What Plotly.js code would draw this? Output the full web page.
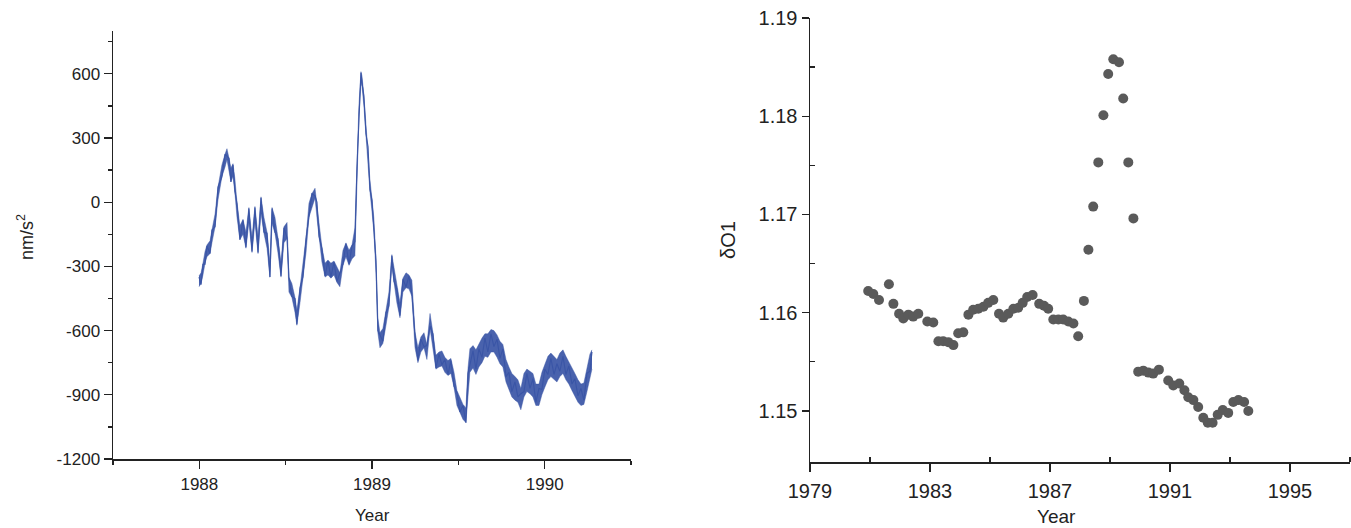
<!DOCTYPE html>
<html>
<head>
<meta charset="utf-8">
<script src="https://cdn.plot.ly/plotly-3.0.1.min.js"></script>
<style>
  html, body { margin: 0; padding: 0; background: #ffffff; }
  #chart { width: 1351px; height: 528px; }
</style>
</head>
<body>
<div id="chart"></div>
<script>
// ---- Left panel: gravity residual (nm/s^2) versus time ----
const gravityYears = [
  1987.998,1988.010,1988.021,1988.033,1988.044,1988.062,1988.073,1988.091,1988.108,1988.131,
  1988.149,1988.160,1988.172,1988.183,1988.195,1988.206,1988.218,1988.235,1988.253,1988.270,
  1988.287,1988.305,1988.322,1988.340,1988.357,1988.374,1988.392,1988.409,1988.421,1988.438,
  1988.455,1988.473,1988.490,1988.508,1988.519,1988.536,1988.554,1988.565,1988.583,1988.600,
  1988.618,1988.635,1988.652,1988.670,1988.681,1988.693,1988.710,1988.728,1988.745,1988.762,
  1988.780,1988.797,1988.814,1988.832,1988.849,1988.867,1988.884,1988.901,1988.913,1988.924,
  1988.936,1988.942,1988.953,1988.965,1988.977,1988.988,1989.000,1989.011,1989.023,1989.034,
  1989.046,1989.063,1989.081,1989.098,1989.115,1989.127,1989.144,1989.162,1989.179,1989.197,
  1989.214,1989.231,1989.249,1989.266,1989.283,1989.301,1989.318,1989.336,1989.353,1989.370,
  1989.388,1989.405,1989.422,1989.440,1989.457,1989.475,1989.492,1989.509,1989.527,1989.544,
  1989.556,1989.567,1989.585,1989.602,1989.619,1989.637,1989.654,1989.671,1989.689,1989.706,
  1989.724,1989.741,1989.758,1989.776,1989.793,1989.810,1989.828,1989.845,1989.862,1989.880,
  1989.897,1989.915,1989.932,1989.949,1989.967,1989.984,1990.001,1990.019,1990.036,1990.054,
  1990.071,1990.088,1990.106,1990.123,1990.140,1990.158,1990.175,1990.193,1990.210,1990.227,
  1990.245,1990.262,1990.274
];
// noisy trace, read alternately from the upper and lower side of the band
const gravityValues = [
  -350,-385,-290,-290,-205,-240,-130,-115,70,120,
  225,215,205,95,175,50,-5,-175,-85,-210,
  -30,-230,-25,-235,20,-140,-145,-350,-30,-140,
  -170,-345,-120,-165,-355,-440,-450,-570,-400,-350,
  -170,-65,40,30,0,-160,-215,-345,-275,-350,
  -280,-370,-335,-290,-195,-290,-205,-185,165,420,
  605,560,495,320,260,60,10,-130,-275,-600,
  -620,-650,-515,-485,-250,-370,-405,-530,-360,-395,
  -345,-430,-620,-740,-640,-675,-670,-580,-615,-775,
  -710,-760,-735,-805,-740,-860,-890,-980,-950,-1030,
  -800,-765,-695,-780,-685,-725,-635,-700,-615,-675,
  -640,-730,-685,-815,-795,-885,-840,-910,-895,-885,
  -800,-870,-825,-935,-870,-875,-780,-805,-730,-805,
  -755,-790,-720,-805,-765,-850,-825,-905,-870,-925,
  -800,-790,-700
];
// upper and lower edge of the noise band
const gravityUpper = [
  -345,-330,-285,-230,-200,-180,-130,-55,70,175,
  225,250,205,160,180,110,0,-110,-80,-140,
  -25,-165,-20,-160,25,-70,-140,-280,-25,-70,
  -165,-280,-115,-95,-350,-380,-445,-505,-400,-285,
  -165,-5,40,65,0,-95,-210,-285,-270,-285,
  -275,-305,-330,-225,-190,-225,-200,-120,170,450,
  610,590,500,360,270,105,15,-75,-260,-540,
  -610,-590,-505,-420,-245,-305,-400,-470,-355,-330,
  -340,-365,-605,-680,-630,-610,-665,-520,-610,-715,
  -700,-695,-725,-740,-730,-795,-880,-915,-945,-960,
  -775,-685,-670,-690,-660,-635,-615,-615,-595,-600,
  -620,-650,-665,-735,-770,-800,-815,-830,-870,-800,
  -780,-790,-800,-850,-850,-795,-760,-720,-705,-720,
  -735,-705,-690,-720,-745,-770,-800,-830,-850,-845,
  -780,-710,-690
];
const gravityLower = [
  -395,-380,-340,-285,-255,-240,-190,-115,10,120,
  165,200,145,95,120,45,-70,-175,-150,-215,
  -95,-235,-95,-240,-50,-145,-215,-350,-100,-145,
  -235,-350,-190,-170,-420,-445,-515,-575,-470,-350,
  -235,-70,-20,20,-70,-165,-280,-350,-340,-355,
  -340,-375,-395,-295,-255,-295,-265,-250,100,400,
  560,540,450,310,215,50,-45,-140,-330,-610,
  -680,-660,-575,-490,-300,-375,-470,-540,-420,-400,
  -405,-440,-680,-750,-700,-680,-735,-590,-680,-780,
  -770,-765,-795,-810,-800,-865,-950,-985,-1015,-1030,
  -890,-795,-775,-805,-770,-750,-720,-725,-700,-700,
  -725,-755,-770,-840,-875,-910,-925,-935,-970,-910,
  -885,-895,-910,-950,-950,-900,-865,-830,-815,-830,
  -840,-815,-800,-830,-850,-880,-910,-935,-950,-945,
  -885,-815,-780
];
const leftXTickVals = [1988, 1989, 1990];
const leftXTickText = ['1988', '1989', '1990'];
const leftXMinorVals = [1987.5, 1988.5, 1989.5, 1990.5];
const leftYTickVals = [-1200, -900, -600, -300, 0, 300, 600];
const leftYTickText = ['-1200', '-900', '-600', '-300', '0', '300', '600'];
const leftYMinorVals = [-1050, -750, -450, -150, 150, 450, 750];

// ---- Right panel: delta O1 factor versus year ----
const deltaYears = [
  1980.94,1981.11,1981.30,1981.63,1981.78,1981.97,1982.11,1982.28,1982.44,1982.61,
  1982.91,1983.11,1983.28,1983.44,1983.61,1983.78,1983.94,1984.11,1984.28,1984.44,
  1984.61,1984.78,1984.94,1985.11,1985.30,1985.44,1985.61,1985.78,1985.94,1986.09,
  1986.24,1986.42,1986.64,1986.80,1986.94,1987.11,1987.28,1987.44,1987.61,1987.78,
  1987.94,1988.13,1988.28,1988.44,1988.61,1988.78,1988.94,1989.11,1989.30,1989.44,
  1989.61,1989.78,1989.94,1990.11,1990.28,1990.44,1990.63,1990.94,1991.11,1991.31,
  1991.48,1991.61,1991.78,1991.94,1992.11,1992.26,1992.42,1992.59,1992.76,1992.94,
  1993.11,1993.28,1993.47,1993.61
];
const deltaValues = [
  1.1622,1.1619,1.1613,1.1629,1.1609,1.1599,1.1594,1.1598,1.1596,1.1599,
  1.1591,1.1590,1.1571,1.1571,1.1570,1.1567,1.1579,1.1580,1.1598,1.1603,
  1.1604,1.1606,1.1610,1.1613,1.1599,1.1595,1.1599,1.1604,1.1605,1.1610,
  1.1616,1.1618,1.1609,1.1607,1.1604,1.1593,1.1593,1.1593,1.1591,1.1589,
  1.1576,1.1612,1.1664,1.1708,1.1753,1.1801,1.1843,1.1858,1.1855,1.1818,
  1.1753,1.1696,1.1540,1.1541,1.1539,1.1538,1.1542,1.1531,1.1526,1.1528,
  1.1521,1.1514,1.1511,1.1504,1.1493,1.1488,1.1488,1.1496,1.1501,1.1498,
  1.1509,1.1511,1.1509,1.1500
];
const rightXTickVals = [1979, 1983, 1987, 1991, 1995];
const rightXTickText = ['1979', '1983', '1987', '1991', '1995'];
const rightXMinorVals = [1981, 1985, 1989, 1993, 1997];
const rightYTickVals = [1.15, 1.16, 1.17, 1.18, 1.19];
const rightYTickText = ['1.15', '1.16', '1.17', '1.18', '1.19'];
const rightYMinorVals = [1.155, 1.165, 1.175, 1.185];

const FONT = '"Liberation Sans", Arial, Helvetica, sans-serif';
const AX = '#222222';
const BLUE = '#3a55a6';

const traces = [
  {
    type: 'scatter', mode: 'lines',
    x: gravityYears, y: gravityLower,
    xaxis: 'x', yaxis: 'y',
    line: { color: 'rgba(58,85,166,0.55)', width: 0.8 },
    hoverinfo: 'skip'
  },
  {
    type: 'scatter', mode: 'lines',
    x: gravityYears, y: gravityUpper,
    xaxis: 'x', yaxis: 'y',
    fill: 'tonexty', fillcolor: 'rgba(58,85,166,0.92)',
    line: { color: 'rgba(58,85,166,0.55)', width: 0.8 },
    hoverinfo: 'skip'
  },
  {
    type: 'scatter', mode: 'lines',
    x: gravityYears, y: gravityValues,
    xaxis: 'x', yaxis: 'y',
    line: { color: BLUE, width: 1.1 },
    hoverinfo: 'x+y'
  },
  {
    type: 'scatter', mode: 'markers',
    x: deltaYears, y: deltaValues,
    xaxis: 'x2', yaxis: 'y2',
    marker: { color: '#5a5a5a', size: 10, line: { width: 0 } },
    hoverinfo: 'x+y'
  }
];

function axisBase(size) {
  return {
    showline: true, linecolor: AX, linewidth: 1.5,
    showgrid: false, zeroline: false,
    ticks: 'outside', tickcolor: AX, tickwidth: 1.3,
    tickfont: { family: FONT, size: size, color: '#222' },
    tickmode: 'array', fixedrange: true
  };
}

const layout = {
  width: 1351, height: 528,
  margin: { l: 0, r: 0, t: 0, b: 0, pad: 0 },
  paper_bgcolor: '#ffffff', plot_bgcolor: '#ffffff',
  showlegend: false,
  font: { family: FONT, color: '#222' },
  xaxis: Object.assign(axisBase(17), {
    domain: [113 / 1351, 631 / 1351], anchor: 'y',
    range: [1987.5, 1990.5],
    tickvals: leftXTickVals, ticktext: leftXTickText, ticklen: 8,
    ticklabelstandoff: 1,
    minor: { tickmode: 'array', tickvals: leftXMinorVals, ticks: 'outside', ticklen: 4, tickcolor: AX, tickwidth: 1.3, showgrid: false }
  }),
  yaxis: Object.assign(axisBase(17), {
    domain: [69 / 528, 497 / 528], anchor: 'x',
    range: [-1200, 800],
    tickvals: leftYTickVals, ticktext: leftYTickText, ticklen: 8,
    minor: { tickmode: 'array', tickvals: leftYMinorVals, ticks: 'outside', ticklen: 4, tickcolor: AX, tickwidth: 1.3, showgrid: false }
  }),
  xaxis2: Object.assign(axisBase(20), {
    domain: [810 / 1351, 1350 / 1351], anchor: 'y2',
    range: [1979, 1997],
    tickvals: rightXTickVals, ticktext: rightXTickText, ticklen: 8,
    ticklabelstandoff: 2,
    minor: { tickmode: 'array', tickvals: rightXMinorVals, ticks: 'inside', ticklen: 5, tickcolor: AX, tickwidth: 1.3, showgrid: false }
  }),
  yaxis2: Object.assign(axisBase(20), {
    domain: [66 / 528, 510 / 528], anchor: 'x2',
    range: [1.1448, 1.19],
    tickvals: rightYTickVals, ticktext: rightYTickText, ticklen: 7,
    minor: { tickmode: 'array', tickvals: rightYMinorVals, ticks: 'inside', ticklen: 5, tickcolor: AX, tickwidth: 1.3, showgrid: false }
  }),
  annotations: [
    { text: 'Year', xref: 'paper', yref: 'paper', x: 372 / 1351, y: (528 - 515) / 528,
      xanchor: 'center', yanchor: 'middle', showarrow: false,
      font: { family: FONT, size: 17, color: '#222' } },
    { text: 'nm/s<sup>2</sup>', xref: 'paper', yref: 'paper', x: 25 / 1351, y: (528 - 237) / 528,
      xanchor: 'center', yanchor: 'middle', showarrow: false, textangle: -90,
      font: { family: FONT, size: 18, color: '#222' } },
    { text: 'Year', xref: 'paper', yref: 'paper', x: 1056 / 1351, y: (528 - 516) / 528,
      xanchor: 'center', yanchor: 'middle', showarrow: false,
      font: { family: FONT, size: 19, color: '#222' } },
    { text: 'δO1', xref: 'paper', yref: 'paper', x: 728 / 1351, y: (528 - 240) / 528,
      xanchor: 'center', yanchor: 'middle', showarrow: false, textangle: -90,
      font: { family: FONT, size: 20, color: '#222' } }
  ]
};

Plotly.newPlot('chart', traces, layout, { displayModeBar: false, staticPlot: true });
</script>
</body>
</html>
